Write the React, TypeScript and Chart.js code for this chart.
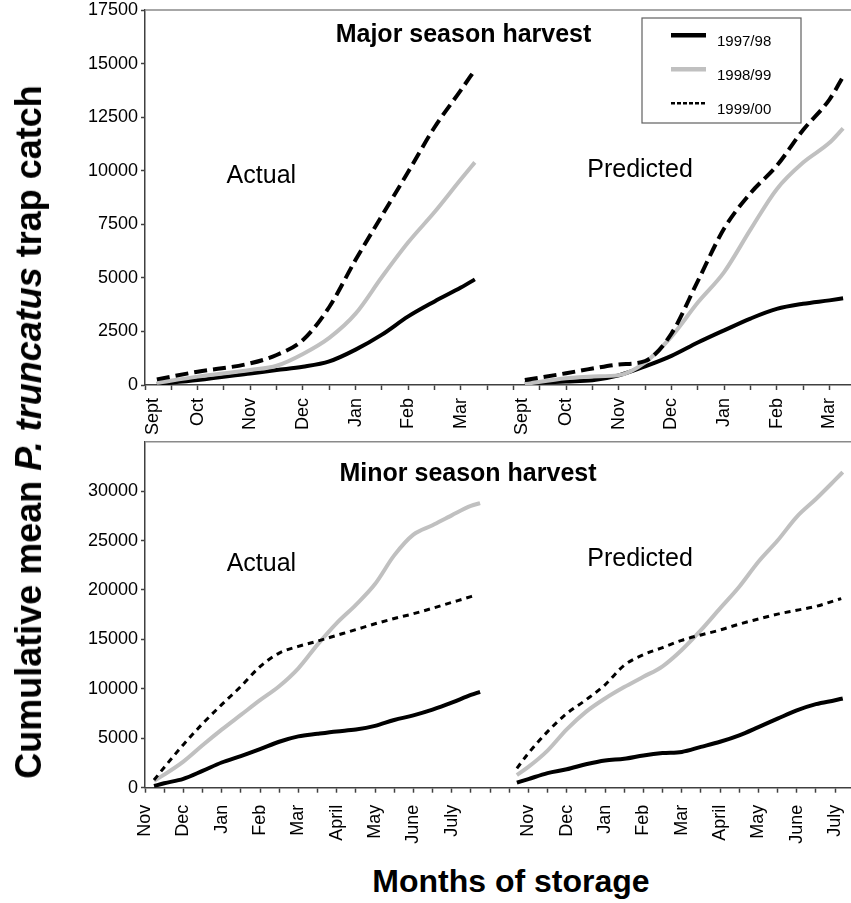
import React, { useEffect, useRef } from "react";
import { Chart, registerables } from "chart.js";

Chart.register(...registerables);

// ---------- data ----------
const SERIES_LABELS = ["1997/98", "1998/99", "1999/00"];

// x unit = half a month of storage (one minor tick on the axis)
const majorMonths = ["Sept", "Oct", "Nov", "Dec", "Jan", "Feb", "Mar"];
const minorMonths = ["Nov", "Dec", "Jan", "Feb", "Mar", "April", "May", "June", "July"];

// Major season harvest – Actual
const majorActualX = [0.45, 2, 4, 5, 6, 7, 8, 9, 10, 11, 12, 12.53];
const majorActual9798 = [50, 230, 540, 700, 850, 1100, 1650, 2350, 3200, 3900, 4550, 4930];
const majorActual9899 = [100, 390, 700, 900, 1450, 2200, 3330, 5040, 6660, 8070, 9600, 10390];
const majorActual9900 = [264, 620, 1010, 1400, 2100, 3640, 5840, 7900, 9950, 12030, 13760, 14700];

// Major season harvest – Predicted
const majorPredX = [14.43, 16, 17, 18, 19, 20, 21, 22, 23, 24, 25, 26, 26.52];
const majorPred9798 = [78, 160, 220, 450, 870, 1360, 1980, 2550, 3100, 3550, 3790, 3950, 4044];
const majorPred9899 = [47, 320, 400, 460, 1060, 2260, 3850, 5270, 7250, 9140, 10380, 11300, 11978];
const majorPred9900 = [233, 550, 770, 960, 1120, 2400, 4850, 7300, 8950, 10230, 11900, 13320, 14389];

// Minor season harvest – Actual
const minorActualX = [0.47, 1, 2, 3, 4, 5, 6, 7, 8, 9, 10, 11, 12, 13, 14, 15, 16, 17, 17.48];
const minorActualXDashed = [0.47, 1, 2, 3, 4, 5, 6, 7, 8, 9, 10, 11, 12, 13, 14, 15, 16, 17, 17.22];
const minorActual9798 = [172, 450, 900, 1700, 2550, 3200, 3900, 4650, 5190, 5450, 5690, 5880, 6250, 6850, 7320, 7900, 8600, 9380, 9696];
const minorActual9899 = [707, 1320, 2640, 4290, 5870, 7360, 8850, 10260, 12075, 14470, 16650, 18500, 20600, 23500, 25600, 26550, 27550, 28500, 28785];
const minorActual9900 = [778, 2050, 4350, 6470, 8400, 10240, 12250, 13620, 14290, 14830, 15410, 15990, 16580, 17110, 17600, 18150, 18740, 19330, 19463];

// Minor season harvest – Predicted
const minorPredX = [19.4, 20, 21, 22, 23, 24, 25, 26, 27, 28, 29, 30, 31, 32, 33, 34, 35, 36, 36.4];
const minorPredXDashed = [19.4, 20, 21, 22, 23, 24, 25, 26, 27, 28, 29, 30, 31, 32, 33, 34, 35, 36, 36.32];
const minorPred9798 = [505, 870, 1480, 1860, 2370, 2760, 2920, 3260, 3500, 3620, 4130, 4650, 5300, 6130, 6980, 7820, 8450, 8850, 9029];
const minorPred9899 = [1283, 2100, 3750, 5900, 7670, 9025, 10180, 11220, 12280, 13930, 15930, 18140, 20330, 22860, 25000, 27400, 29200, 31130, 31916];
const minorPred9900 = [1959, 3480, 5670, 7500, 8880, 10410, 12390, 13450, 14170, 14910, 15450, 15950, 16550, 17060, 17560, 17950, 18340, 18940, 19130];

const majorYTicks = [0, 2500, 5000, 7500, 10000, 12500, 15000, 17500];
const minorYTicks = [0, 5000, 10000, 15000, 20000, 25000, 30000];

// ---------- styles ----------
const FONT = "'Liberation Sans', Arial, sans-serif";
const AXIS = "#404040";
const SERIES_COLORS = ["#000000", "#c0c0c0", "#000000"];
const MAJOR_WIDTHS = [4, 4, 4];
const MINOR_WIDTHS = [4, 4, 3];
const MAJOR_DASH = [[], [], [13, 6]];
const MINOR_DASH = [[], [], [6, 5]];
const LEGEND_DASH = [[], [], [4, 2]];
const LEGEND_WIDTHS = [4.5, 4.5, 2.5];

type Pt = { x: number; y: number | null };

function pts(xs: number[], ys: number[]): Pt[] {
  return xs.map((x, i) => ({ x, y: ys[i] }));
}

function joinGroups(a: Pt[], b: Pt[], gapX: number): Pt[] {
  return [...a, { x: gapX, y: null }, ...b];
}

const textPlugin = {
  id: "panelText",
  afterDatasetsDraw(chart: any, _args: any, opts: any) {
    const { ctx, scales } = chart;
    ctx.save();
    for (const it of opts.items || []) {
      ctx.font = it.font;
      ctx.fillStyle = "#000";
      ctx.textAlign = it.align;
      ctx.textBaseline = "alphabetic";
      ctx.fillText(it.text, scales.x.getPixelForValue(it.x), scales.y.getPixelForValue(it.y));
    }
    ctx.restore();
  },
};

const framePlugin = {
  id: "topFrame",
  beforeDatasetsDraw(chart: any) {
    const { ctx, chartArea } = chart;
    ctx.save();
    ctx.strokeStyle = "#8a8a8a";
    ctx.lineWidth = 1.5;
    ctx.beginPath();
    ctx.moveTo(chartArea.left, chartArea.top);
    ctx.lineTo(chartArea.right, chartArea.top);
    ctx.stroke();
    ctx.restore();
  },
};

const legendPlugin = {
  id: "boxLegend",
  afterDraw(chart: any, _args: any, opts: any) {
    if (!opts.show) return;
    const { ctx, chartArea } = chart;
    const left = chartArea.right - opts.right - opts.width;
    const top = chartArea.top + opts.top;
    ctx.save();
    ctx.fillStyle = "#fff";
    ctx.fillRect(left, top, opts.width, opts.height);
    ctx.strokeStyle = "#606060";
    ctx.lineWidth = 1.2;
    ctx.strokeRect(left, top, opts.width, opts.height);
    chart.data.datasets.forEach((ds: any, i: number) => {
      const ly = top + 17.3 + i * 34;
      ctx.beginPath();
      ctx.setLineDash(LEGEND_DASH[i]);
      ctx.strokeStyle = ds.borderColor;
      ctx.lineWidth = LEGEND_WIDTHS[i];
      ctx.moveTo(left + 29, ly);
      ctx.lineTo(left + 64, ly);
      ctx.stroke();
      ctx.setLineDash([]);
      ctx.fillStyle = "#000";
      ctx.font = `15px ${FONT}`;
      ctx.textAlign = "left";
      ctx.textBaseline = "alphabetic";
      ctx.fillText(ds.label, left + 75, top + 28 + i * 34);
    });
    ctx.restore();
  },
};

type PanelSpec = {
  datasets: Pt[][];
  dashes: number[][];
  widths: number[];
  xMax: number;
  tickCount: number;
  months: string[];
  groupStarts: number[];
  firstNudge: number;
  yMax: number;
  yTicks: number[];
  padTop: number;
  xHeight: number;
  labelPad: number;
  texts: any[];
  legend: boolean;
};

function buildConfig(p: PanelSpec): any {
  const labelAt = new Map<number, string>();
  const labelOnly = new Set<number>();
  p.groupStarts.forEach((g) => {
    p.months.forEach((m, i) => {
      let v = g + 2 * i;
      if (i === 0 && p.firstNudge) {
        v = +(v + p.firstNudge).toFixed(2);
        labelOnly.add(v);
      }
      labelAt.set(v, m);
    });
  });
  const tickVals: number[] = [];
  for (let i = 0; i <= p.tickCount; i++) tickVals.push(i);
  labelOnly.forEach((v) => tickVals.push(v));
  tickVals.sort((a, b) => a - b);

  return {
    type: "line",
    data: {
      datasets: SERIES_LABELS.map((label, s) => ({
        label,
        data: p.datasets[s],
        borderColor: SERIES_COLORS[s],
        borderWidth: p.widths[s],
        borderDash: p.dashes[s],
        pointRadius: 0,
        fill: false,
        spanGaps: false,
        cubicInterpolationMode: "monotone",
        borderCapStyle: "butt",
        order: 2 - s,
      })),
    },
    options: {
      responsive: false,
      animation: false,
      events: [],
      layout: { padding: { top: p.padTop, left: 0, right: 0, bottom: 0 } },
      plugins: {
        legend: { display: false },
        tooltip: { enabled: false },
        title: { display: false },
        panelText: { items: p.texts },
        boxLegend: { show: p.legend, right: 50, top: 8, width: 159, height: 105 },
      },
      scales: {
        x: {
          type: "linear",
          min: 0,
          max: p.xMax,
          afterBuildTicks: (scale: any) => {
            scale.ticks = tickVals.map((v) => ({ value: v }));
          },
          afterFit: (scale: any) => {
            scale.height = p.xHeight;
            scale.paddingLeft = 0;
            scale.paddingRight = 0;
            scale.paddingTop = 0;
            scale.paddingBottom = 0;
          },
          ticks: {
            autoSkip: false,
            minRotation: 90,
            maxRotation: 90,
            padding: p.labelPad,
            color: "#000",
            font: { family: FONT, size: 18 },
            callback: (v: number) => labelAt.get(+(+v).toFixed(2)) || "",
          },
          grid: {
            drawOnChartArea: false,
            drawTicks: true,
            tickLength: 5,
            tickWidth: 1.5,
            tickColor: (ctx: any) =>
              ctx.tick && labelOnly.has(+(+ctx.tick.value).toFixed(2)) ? "rgba(0,0,0,0)" : AXIS,
          },
          border: { color: AXIS, width: 1.5 },
        },
        y: {
          type: "linear",
          min: 0,
          max: p.yMax,
          afterBuildTicks: (scale: any) => {
            scale.ticks = p.yTicks.map((v) => ({ value: v }));
          },
          afterFit: (scale: any) => {
            scale.width = 145;
            scale.paddingTop = 0;
            scale.paddingBottom = 0;
            scale.paddingLeft = 0;
            scale.paddingRight = 0;
          },
          ticks: {
            padding: 3,
            color: "#000",
            font: { family: FONT, size: 18 },
            callback: (v: number) => String(v),
          },
          grid: {
            drawOnChartArea: false,
            tickLength: 4,
            tickWidth: 1.5,
            tickColor: AXIS,
          },
          border: { color: AXIS, width: 1.5 },
        },
      },
    },
    plugins: [framePlugin, textPlugin, legendPlugin],
  };
}

const majorSpec: PanelSpec = {
  datasets: [
    joinGroups(pts(majorActualX, majorActual9798), pts(majorPredX, majorPred9798), 13.5),
    joinGroups(pts(majorActualX, majorActual9899), pts(majorPredX, majorPred9899), 13.5),
    joinGroups(pts(majorActualX, majorActual9900), pts(majorPredX, majorPred9900), 13.5),
  ],
  dashes: MAJOR_DASH,
  widths: MAJOR_WIDTHS,
  xMax: 26.82,
  tickCount: 26,
  months: majorMonths,
  groupStarts: [0, 14],
  firstNudge: 0.32,
  yMax: 17500,
  yTicks: majorYTicks,
  padTop: 10,
  xHeight: 55,
  labelPad: 8,
  texts: [
    { text: "Major season harvest", x: 12.1, y: 16007, align: "center", font: `bold 25px ${FONT}` },
    { text: "Actual", x: 3.1, y: 9427, align: "left", font: `25px ${FONT}` },
    { text: "Predicted", x: 16.8, y: 9721, align: "left", font: `25px ${FONT}` },
  ],
  legend: true,
};

const minorSpec: PanelSpec = {
  datasets: [
    joinGroups(pts(minorActualX, minorActual9798), pts(minorPredX, minorPred9798), 18.5),
    joinGroups(pts(minorActualX, minorActual9899), pts(minorPredX, minorPred9899), 18.5),
    joinGroups(pts(minorActualXDashed, minorActual9900), pts(minorPredXDashed, minorPred9900), 18.5),
  ],
  dashes: MINOR_DASH,
  widths: MINOR_WIDTHS,
  xMax: 36.83,
  tickCount: 36,
  months: minorMonths,
  groupStarts: [0, 20],
  firstNudge: 0,
  yMax: 35000,
  yTicks: minorYTicks,
  padTop: 1.7,
  xHeight: 72.3,
  labelPad: 12,
  texts: [
    { text: "Minor season harvest", x: 16.85, y: 31068, align: "center", font: `bold 25px ${FONT}` },
    { text: "Actual", x: 4.26, y: 21960, align: "left", font: `25px ${FONT}` },
    { text: "Predicted", x: 23.07, y: 22466, align: "left", font: `25px ${FONT}` },
  ],
  legend: false,
};

function Panel({ spec, top, height }: { spec: PanelSpec; top: number; height: number }) {
  const ref = useRef<HTMLCanvasElement | null>(null);
  useEffect(() => {
    if (!ref.current) return;
    const chart = new Chart(ref.current, buildConfig(spec));
    return () => chart.destroy();
  }, [spec]);
  return (
    <canvas
      ref={ref}
      width={851}
      height={height}
      style={{ position: "absolute", left: 0, top, width: 851, height }}
    />
  );
}

export default function App() {
  return (
    <div style={{ position: "absolute", left: 0, top: 0, width: 851, height: 903, background: "#fff", overflow: "hidden" }}>
      <Panel spec={majorSpec} top={0} height={440} />
      <Panel spec={minorSpec} top={440} height={420} />
      <div
        style={{
          position: "absolute",
          left: 29,
          top: 432,
          transform: "translate(-50%, -50%) rotate(-90deg)",
          whiteSpace: "nowrap",
          fontFamily: FONT,
          fontWeight: "bold",
          fontSize: 36,
          lineHeight: "36px",
          color: "#000",
        }}
      >
        Cumulative mean <span style={{ fontStyle: "italic" }}>P. truncatus</span> trap catch
      </div>
      <div
        style={{
          position: "absolute",
          left: 511,
          top: 865,
          transform: "translateX(-50%)",
          whiteSpace: "nowrap",
          fontFamily: FONT,
          fontWeight: "bold",
          fontSize: 32,
          lineHeight: "32px",
          color: "#000",
        }}
      >
        Months of storage
      </div>
    </div>
  );
}
